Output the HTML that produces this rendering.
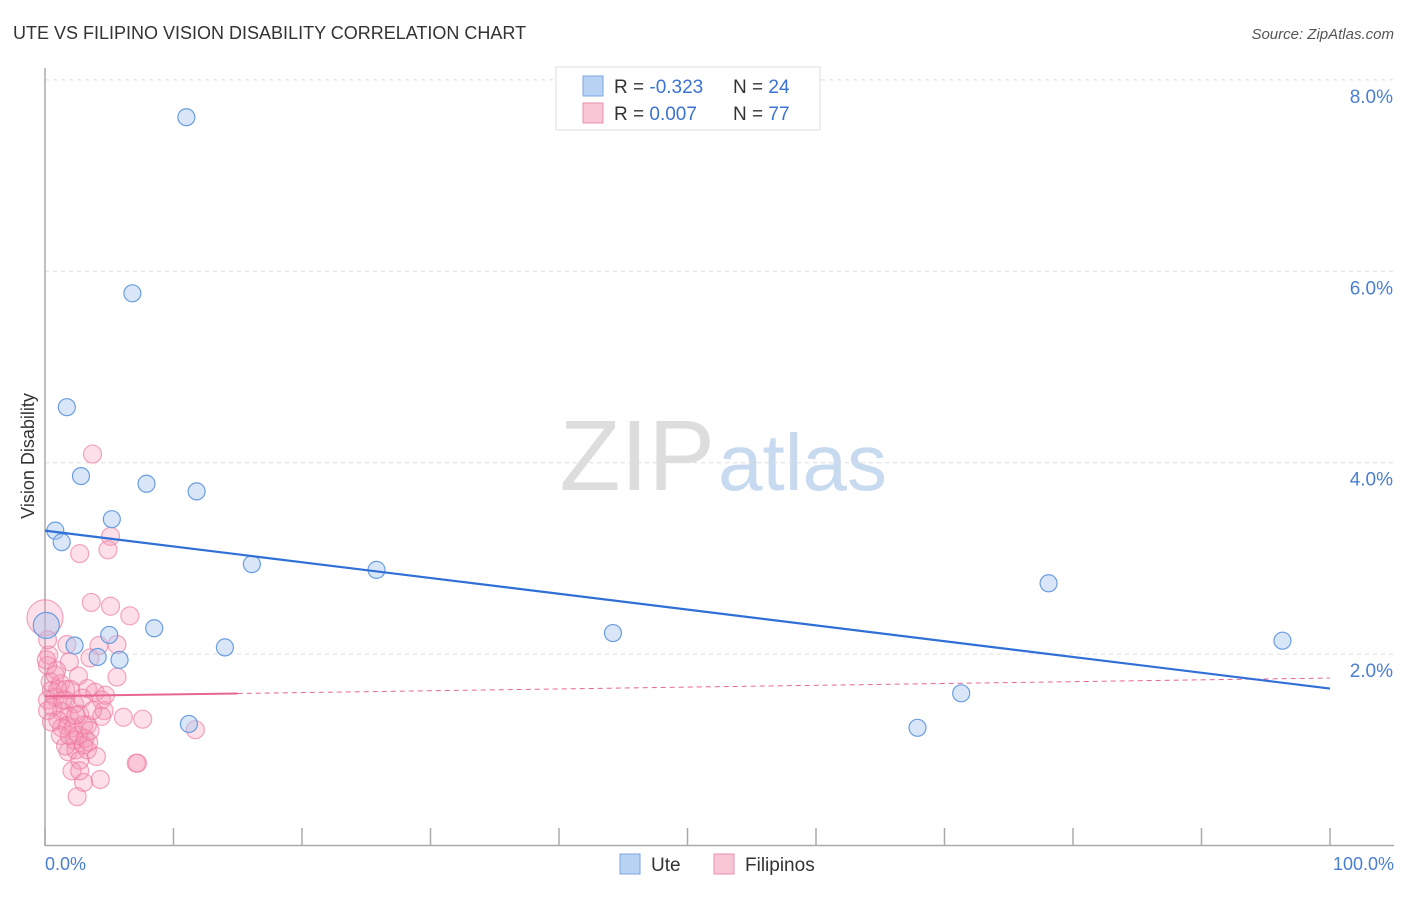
<!DOCTYPE html>
<html><head><meta charset="utf-8"><style>
body{margin:0;background:#fff;font-family:"Liberation Sans",sans-serif;}
svg text{font-family:"Liberation Sans",sans-serif;}
</style></head><body>
<svg width="1406" height="892" xmlns="http://www.w3.org/2000/svg">
<text x="13" y="39" font-size="18" fill="#333">UTE VS FILIPINO VISION DISABILITY CORRELATION CHART</text>
<text x="1394" y="39" font-size="15" fill="#555" text-anchor="end" font-style="italic">Source: ZipAtlas.com</text>
<g>
<text x="715" y="490" font-size="100" fill="#ddd" text-anchor="end" font-family="Liberation Serif">ZIP</text>
<text x="718" y="490" font-size="80" fill="#c8daf0">atlas</text>
</g>
<g id="grid"></g>
<g id="axes"></g>
<g id="marks"></g>
<text x="34" y="456" font-size="18" fill="#333" text-anchor="middle" transform="rotate(-90 34 456)">Vision Disability</text>
<text x="45" y="870" font-size="18" fill="#4a7fd0">0.0%</text>
<text x="1394" y="870" font-size="18" fill="#4a7fd0" text-anchor="end">100.0%</text>
<g>
<rect x="556" y="67" width="264" height="63" fill="#fff" stroke="#ddd"/>
<rect x="583" y="76" width="20" height="20" fill="#b9d3f5" stroke="#7aa6e0"/>
<text x="614" y="93" font-size="19" fill="#333">R = <tspan fill="#3b73d4">-0.323</tspan></text>
<text x="733" y="93" font-size="19" fill="#333">N = <tspan fill="#3b73d4">24</tspan></text>
<rect x="583" y="103" width="20" height="20" fill="#f9c6d6" stroke="#ec8fae"/>
<text x="614" y="120" font-size="19" fill="#333">R = <tspan fill="#3b73d4"> 0.007</tspan></text>
<text x="733" y="120" font-size="19" fill="#333">N = <tspan fill="#3b73d4">77</tspan></text>
</g>
<g>
<rect x="620" y="854" width="20" height="20" fill="#b9d3f5" stroke="#7aa6e0"/>
<text x="651" y="871" font-size="19" fill="#333">Ute</text>
<rect x="714" y="854" width="20" height="20" fill="#f9c6d6" stroke="#ec8fae"/>
<text x="745" y="871" font-size="19" fill="#333">Filipinos</text>
</g>
</svg>
<script>
const yTicks=[2,4,6,8];
const yTickLabels=["2.0%","4.0%","6.0%","8.0%"];
const xTicks=[0,10,20,30,40,50,60,70,80,90,100];
const uteX=[11.0,6.8,1.7,2.8,7.9,11.8,5.2,0.8,1.3,16.1,25.8,78.1,8.5,44.2,5.0,96.3,2.3,14.0,4.1,5.8,71.3,11.2,67.9,0.1];
const uteY=[7.61,5.77,4.58,3.86,3.78,3.70,3.41,3.29,3.17,2.94,2.88,2.74,2.27,2.22,2.20,2.14,2.09,2.07,1.97,1.94,1.59,1.27,1.23,2.30];
const filX=[3.7,5.1,2.7,4.9,3.6,5.1,6.6,0.0,4.2,5.6,1.7,0.3,3.5,1.9,2.6,5.6,0.4,1.2,3.3,3.9,4.4,0.5,0.8,0.2,1.6,2.3,1.3,1.9,1.0,2.7,4.6,4.4,6.1,7.6,1.7,2.2,3.3,1.3,3.1,2.3,1.8,2.4,3.3,4.0,3.0,2.7,2.1,3.0,4.3,2.5,7.1,7.2,11.7,0.9,0.2,0.6,1.6,2.6,3.4,1.2,0.8,0.2,2.0,1.4,0.5,2.9,1.6,2.7,3.7,1.0,0.1,0.2,4.7,3.0,1.9,2.4,3.5];
const filY=[4.09,3.23,3.05,3.09,2.54,2.50,2.40,2.38,2.09,2.10,2.10,1.99,1.96,1.92,1.77,1.76,1.71,1.69,1.64,1.60,1.52,1.62,1.55,1.52,1.52,1.48,1.40,1.35,1.31,1.37,1.41,1.35,1.34,1.32,1.25,1.23,1.26,1.23,1.12,1.10,0.98,1.00,1.00,0.93,1.05,0.89,0.78,0.66,0.69,0.51,0.86,0.86,1.21,1.83,1.88,1.45,1.63,1.15,1.08,1.15,1.78,1.41,1.63,1.52,1.29,1.54,1.04,0.78,1.41,1.63,1.94,2.15,1.57,1.26,1.15,1.36,1.20];
const uteTrend=[3.29,1.64];
const filTrend=[1.56,1.75];
const filSolidEnd=15;
const X0=45,X1=1330,Y0=845.5,YPER=95.7;
const sx=v=>X0+(X1-X0)*v/100, sy=v=>Y0-YPER*v;
const NS="http://www.w3.org/2000/svg";
function mk(tag,attrs,parent){const e=document.createElementNS(NS,tag);for(const k in attrs)e.setAttribute(k,attrs[k]);document.getElementById(parent).appendChild(e);return e;}
yTicks.forEach((t,i)=>{
 const g=mk('line',{x1:45,x2:1394,y1:sy(t),y2:sy(t),stroke:'#ddd','stroke-dasharray':'4,4'},'grid');
 
 
 const tx=mk('text',{x:1393,y:sy(t)+23,'font-size':19,fill:'#4a7fd0','text-anchor':'end'},'grid');
 tx.textContent=yTickLabels[i];
 
 
});
const ya=mk('line',{x1:45,x2:45,y1:68,y2:846,stroke:'#aaa','stroke-width':1.5},'axes');


const xa=mk('line',{x1:45,x2:1394,y1:845.5,y2:845.5,stroke:'#aaa','stroke-width':1.5},'axes');


xTicks.forEach(t=>{
 const l=mk('line',{x1:sx(t),x2:sx(t),y1:828,y2:845,stroke:'#aaa','stroke-width':1.5},'axes');
 
 
});
filX.forEach((x,i)=>{
 const r=(x===0)?18:9;
 const c=mk('circle',{cx:sx(x),cy:sy(filY[i]),r:r,fill:'rgba(244,150,180,0.3)',stroke:'rgba(236,120,160,0.65)','stroke-width':1.2},'marks');
 
 
});
uteX.forEach((x,i)=>{
 const r=(x<0.5)?13:8.5;
 const c=mk('circle',{cx:sx(x),cy:sy(uteY[i]),r:r,fill:'rgba(170,200,240,0.45)',stroke:'#6a9ee0','stroke-width':1.2},'marks');
 
 
});
const ft=x=>filTrend[0]+(filTrend[1]-filTrend[0])*x/100;
const p1=mk('line',{x1:sx(0),y1:sy(ft(0)),x2:sx(filSolidEnd),y2:sy(ft(filSolidEnd)),stroke:'#e8678f','stroke-width':2},'marks');


const p2=mk('line',{x1:sx(filSolidEnd),y1:sy(ft(filSolidEnd)),x2:sx(100),y2:sy(ft(100)),stroke:'#e8678f','stroke-width':1,'stroke-dasharray':'5,4'},'marks');


const u=mk('line',{x1:sx(0),y1:sy(uteTrend[0]),x2:sx(100),y2:sy(uteTrend[1]),stroke:'#2f6fd6','stroke-width':2.2},'marks');


</script>
</body></html>
